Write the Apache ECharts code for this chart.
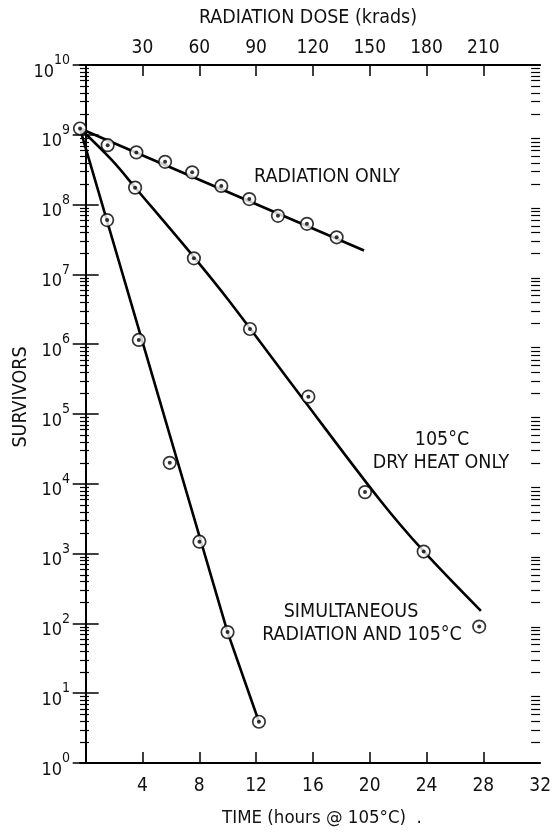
<!DOCTYPE html>
<html><head><meta charset="utf-8">
<script src="https://cdn.jsdelivr.net/npm/echarts@6/dist/echarts.min.js"></script>
<style>html,body{margin:0;padding:0;background:#fff}#c{width:554px;height:836px}</style>
</head><body><div id="c"></div>
<script>
const FONT = "'Liberation Sans Narrow','DejaVu Sans Condensed','Noto Sans',sans-serif";
// time (hours @ 105°C) vs survivors
const originX = [-0.4];
const originY = [1.23e9];
const radX = [1.55, 3.57, 5.59, 7.50, 9.55, 11.52, 13.54, 15.58, 17.67];
const radY = [7.1e8, 5.6e8, 4.1e8, 2.9e8, 1.85e8, 1.2e8, 6.9e7, 5.3e7, 3.4e7];
const radLineX = [-0.4, 19.6];
const radLineY = [1.23e9, 2.2e7];
const heatX = [3.48, 7.62, 11.57, 15.68, 19.67, 23.80, 27.71];
const heatY = [1.75e8, 1.7e7, 1.65e6, 1.77e5, 7.6e3, 1.07e3, 90];
const heatCurveX = [-0.4, 1.83, 3.51, 7.62, 10.05, 14.93, 20.72, 23.78, 27.83];
const heatCurveY = [1.23e9, 4.36e8, 1.73e8, 1.77e7, 4.3e6, 2.07e5, 5.86e3, 1.09e3, 151];
const simX = [1.51, 3.74, 5.92, 8.01, 9.99, 12.20];
const simY = [6.0e7, 1.15e6, 2.0e4, 1.48e3, 75, 3.9];
const simLineX = [-0.4, 9.99, 12.20];
const simLineY = [1.23e9, 75, 3.9];
// axis ticks
const timeTicks = [4, 8, 12, 16, 20, 24, 28];
const timeLabels = [4, 8, 12, 16, 20, 24, 28, 32];
const doseTicks = [30, 60, 90, 120, 150, 180, 210];
const decadeTicks = [1, 1e1, 1e2, 1e3, 1e4, 1e5, 1e6, 1e7, 1e8, 1e9, 1e10];
const minorMult = [2, 3, 4, 5, 6, 7, 8, 9];

const zip = (xs, ys) => xs.map((x, i) => [x, ys[i]]);
const minorData = [];
decadeTicks.slice(0, 10).forEach(d => minorMult.forEach(m => minorData.push([-0.4, m * d])));

const chart = echarts.init(document.getElementById('c'), null, {renderer: 'canvas'});
const black = '#000';
const ink = '#111';
const markerStyle = {color: '#fff', borderColor: black, borderWidth: 1.7};
const txt = (text, x, y, size, align, extra) => Object.assign({
  type: 'text', x: x, y: y,
  style: {text: text, fill: ink, font: size + 'px ' + FONT, textAlign: align || 'center', textVerticalAlign: 'middle'}
}, extra || {});

const lineSeries = (xs, ys, smooth) => ({
  type: 'line', data: zip(xs, ys), showSymbol: false, smooth: smooth || false, silent: true,
  lineStyle: {color: black, width: 2.6}, z: 2, clip: false
});
const ringSeries = (xs, ys) => ({
  type: 'scatter', data: zip(xs, ys), symbol: 'circle', symbolSize: 12.5,
  itemStyle: markerStyle, z: 3, silent: true, clip: false
});
const dotSeries = (xs, ys) => ({
  type: 'scatter', data: zip(xs, ys), symbol: 'circle', symbolSize: 4,
  itemStyle: {color: black}, z: 4, silent: true, clip: false
});

chart.setOption({
  animation: false,
  backgroundColor: '#fff',
  grid: {left: 80, right: 9, top: 65, bottom: 73, containLabel: false},
  xAxis: [{
    type: 'value', position: 'bottom', min: -0.4, max: 32,
    axisLine: {show: true, lineStyle: {color: black, width: 2}},
    axisTick: {show: true, inside: true, length: 11, customValues: timeTicks, lineStyle: {color: black, width: 1.5}},
    axisLabel: {customValues: timeLabels, margin: 14, color: ink, fontSize: 19, fontFamily: FONT},
    splitLine: {show: false}
  }, {
    type: 'value', position: 'top', min: -3, max: 240,
    axisLine: {show: true, lineStyle: {color: black, width: 2}},
    axisTick: {show: true, inside: true, length: 11, customValues: doseTicks, lineStyle: {color: black, width: 1.5}},
    axisLabel: {customValues: doseTicks, margin: 7, color: ink, fontSize: 19, fontFamily: FONT},
    splitLine: {show: false}
  }],
  yAxis: [{
    type: 'log', logBase: 10, min: 1, max: 1e10, position: 'left',
    axisLine: {show: true, lineStyle: {color: black, width: 2}},
    axisTick: {show: true, inside: true, length: 13, customValues: decadeTicks, lineStyle: {color: black, width: 1.5}},
    axisLabel: {
      customValues: decadeTicks,
      margin: 10, color: ink, fontFamily: FONT,
      formatter: v => '{b|10}{e|' + Math.round(Math.log10(v)) + '}',
      rich: {
        b: {fontSize: 18, fontFamily: FONT, color: ink, padding: [14, 0, 0, 0]},
        e: {fontSize: 14, fontFamily: FONT, color: ink, padding: [0, 0, 9, 0]}
      }
    },
    splitLine: {show: false}
  }, {
    type: 'log', logBase: 10, min: 1, max: 1e10, position: 'right',
    axisLine: {show: true, lineStyle: {color: black, width: 2}},
    axisTick: {show: true, inside: true, length: 13, customValues: decadeTicks, lineStyle: {color: black, width: 1.5}},
    axisLabel: {show: false},
    splitLine: {show: false}
  }],
  series: [
    {
      type: 'custom', data: minorData, silent: true, clip: false, z: 1,
      renderItem: (params, api) => {
        const p = api.coord([-0.4, api.value(1)]);
        const cs = params.coordSys;
        const y = Math.round(p[1]) + 0.5;
        return {type: 'group', children: [
          {type: 'line', shape: {x1: cs.x, y1: y, x2: cs.x + 9, y2: y}, style: {stroke: black, lineWidth: 1.2}},
          {type: 'line', shape: {x1: cs.x + cs.width, y1: y, x2: cs.x + cs.width - 9, y2: y}, style: {stroke: black, lineWidth: 1.2}}
        ]};
      }
    },
    lineSeries(radLineX, radLineY),
    lineSeries(heatCurveX, heatCurveY, 0.35),
    lineSeries(simLineX, simLineY),
    ringSeries(radX, radY), dotSeries(radX, radY),
    ringSeries(heatX, heatY), dotSeries(heatX, heatY),
    ringSeries(simX, simY), dotSeries(simX, simY),
    ringSeries(originX, originY), dotSeries(originX, originY)
  ],
  graphic: [
    txt('RADIATION DOSE (krads)', 308, 18, 19.5),
    txt('SURVIVORS', 21, 397, 19.5, 'center', {rotation: Math.PI / 2}),
    txt('TIME (hours @ 105°C)  .', 322, 818, 18.5),
    txt('RADIATION ONLY', 327, 177, 19.5),
    txt('105°C', 442, 440, 19.5),
    txt('DRY HEAT ONLY', 441, 463, 19.5),
    txt('SIMULTANEOUS', 351, 612, 19.5),
    txt('RADIATION AND 105°C', 362, 635, 19.5)
  ]
});
</script>
</body></html>
